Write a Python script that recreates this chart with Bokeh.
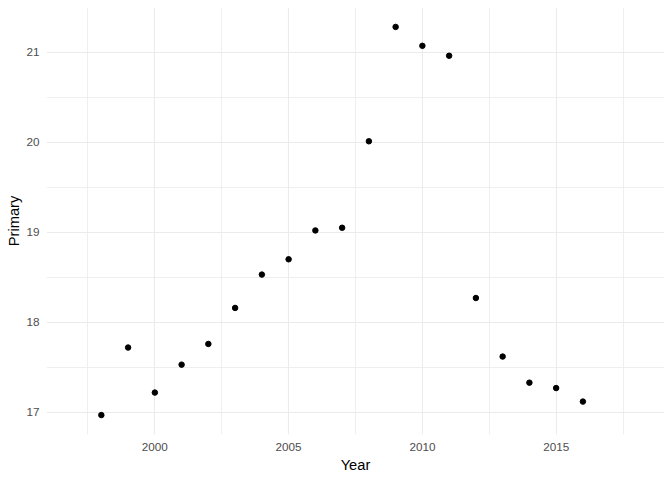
from bokeh.plotting import figure
from bokeh.models import Range1d, FixedTicker
from bokeh.embed import file_html
from bokeh.resources import INLINE

years = [1998, 1999, 2000, 2001, 2002, 2003, 2004, 2005, 2006, 2007,
         2008, 2009, 2010, 2011, 2012, 2013, 2014, 2015, 2016]
primary = [16.97, 17.72, 17.22, 17.53, 17.76, 18.16, 18.53, 18.70, 19.02, 19.05,
           20.01, 21.28, 21.07, 20.96, 18.27, 17.62, 17.33, 17.27, 17.12]
x_ticks = [2000, 2005, 2010, 2015]
x_minor = [1997.5, 2002.5, 2007.5, 2012.5, 2017.5]
y_ticks = [17, 18, 19, 20, 21]
y_minor = [17.5, 18.5, 19.5, 20.5]

# ggplot-style ranges (1997..2018 domain, 5% expansion)
x_lo, x_hi = 1997, 2018
xpad = (x_hi - x_lo) * 0.05
ylo, yhi = min(primary), max(primary)
ypad = (yhi - ylo) * 0.05

p = figure(width=672, height=480, output_backend="svg", toolbar_location=None,
           x_range=Range1d(x_lo - xpad, x_hi + xpad),
           y_range=Range1d(ylo - ypad, yhi + ypad),
           min_border_left=46, min_border_right=8, min_border_top=7, min_border_bottom=46)
p.outline_line_color = None
p.background_fill_color = "white"

p.xaxis.ticker = FixedTicker(ticks=x_ticks, minor_ticks=x_minor)
p.yaxis.ticker = FixedTicker(ticks=y_ticks, minor_ticks=y_minor)

for ax in (p.xaxis, p.yaxis):
    ax.axis_line_color = None
    ax.major_tick_line_color = None
    ax.minor_tick_line_color = None
    ax.major_tick_out = 0
    ax.major_tick_in = 0
    ax.minor_tick_out = 0
    ax.minor_tick_in = 0
    ax.major_label_text_font = "Liberation Sans"
    ax.major_label_text_font_size = "11.7px"
    ax.major_label_text_color = "#4D4D4D"
    ax.axis_label_text_font = "Liberation Sans"
    ax.axis_label_text_font_size = "14.7px"
    ax.axis_label_text_font_style = "normal"
    ax.axis_label_text_color = "black"

p.xaxis.axis_label = "Year"
p.yaxis.axis_label = "Primary"
p.xaxis.major_label_standoff = 8
p.xaxis.axis_label_standoff = 3
p.yaxis.major_label_standoff = 7
p.yaxis.axis_label_standoff = 1

for g in (p.xgrid, p.ygrid):
    g.grid_line_color = "#EBEBEB"
    g.grid_line_width = 1.1
    g.minor_grid_line_color = "#EBEBEB"
    g.minor_grid_line_width = 0.8

p.scatter(years, primary, size=5.5, color="black")

open("out.html", "w").write(file_html(p, INLINE))
